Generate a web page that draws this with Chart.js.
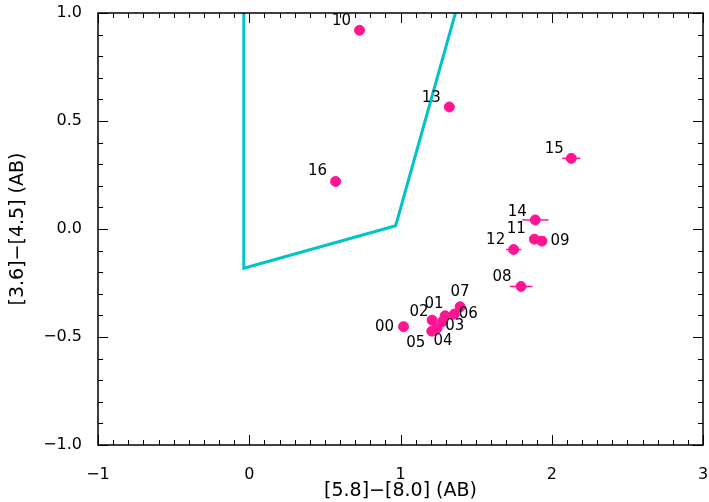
<!DOCTYPE html>
<html>
<head>
<meta charset="utf-8">
<script src="https://cdn.jsdelivr.net/npm/chart.js@4"></script>
<style>
  html, body { margin: 0; padding: 0; background: #fff; }
</style>
</head>
<body>
<canvas id="chart" width="709" height="502"></canvas>
<script>
// ---- Data ----
const srcIds  = ['00', '01', '02', '03', '04', '05', '06', '07', '08', '09', '10', '11', '12', '13', '14', '15', '16'];
const srcX    = [1.020, 1.295, 1.209, 1.279, 1.242, 1.207, 1.356, 1.394, 1.797, 1.935, 0.729, 1.885, 1.748, 1.323, 1.891, 2.129, 0.571];
const srcY    = [-0.452, -0.402, -0.422, -0.428, -0.459, -0.473, -0.394, -0.360, -0.266, -0.056, 0.920, -0.047, -0.095, 0.565, 0.042, 0.327, 0.220];
const srcXErr = [0, 0, 0, 0, 0, 0, 0, 0, 0.075, 0, 0, 0, 0.05, 0, 0.087, 0.06, 0];

// selection wedge
const wedgeX = [-0.036, -0.036, 0.968, 1.363];
const wedgeY = [1.0, -0.182, 0.015, 1.0];

const xTicks = [-1, 0, 1, 2, 3];
const yTicks = [-1.0, -0.5, 0.0, 0.5, 1.0];

// label placement (pixel offsets from each point)
const labelOffsets = {
  '00': [-19, 0], '01': [-11, -12], '02': [-13, -8], '03': [12, 5], '04': [6, 13],
  '05': [-16, 12], '06': [14, 0], '07': [0, -15], '08': [-19, -9], '09': [18, 0],
  '10': [-18, -9], '11': [-18, -10], '12': [-18, -9], '13': [-18, -9], '14': [-18, -8],
  '15': [-17, -9], '16': [-18, -10]
};

const PINK = '#ff1493';
const CYAN = '#00c4c8';
const FONT = '"DejaVu Sans", sans-serif';
const minus = (s) => String(s).replace('-', '\u2212');

const points = srcX.map((x, i) => ({ x, y: srcY[i] }));
const wedge = wedgeX.map((x, i) => ({ x, y: wedgeY[i] }));

// ---- Frame, inside ticks, error bars, labels ----
const framePlugin = {
  id: 'frame',
  beforeDatasetsDraw(chart) {
    const { ctx } = chart;
    const xs = chart.scales.x, ys = chart.scales.y;
    ctx.save();
    ctx.strokeStyle = PINK;
    ctx.lineWidth = 1.5;
    srcXErr.forEach((e, i) => {
      if (!e) return;
      const py = ys.getPixelForValue(srcY[i]);
      ctx.beginPath();
      ctx.moveTo(xs.getPixelForValue(srcX[i] - e), py);
      ctx.lineTo(xs.getPixelForValue(srcX[i] + e), py);
      ctx.stroke();
    });
    ctx.restore();
  },
  afterDatasetsDraw(chart) {
    const { ctx } = chart;
    const xs = chart.scales.x, ys = chart.scales.y;
    ctx.save();
    ctx.fillStyle = '#000';
    ctx.font = '15px ' + FONT;
    ctx.textAlign = 'center';
    ctx.textBaseline = 'middle';
    srcIds.forEach((id, i) => {
      const off = labelOffsets[id] || [0, 0];
      ctx.fillText(id, xs.getPixelForValue(srcX[i]) + off[0], ys.getPixelForValue(srcY[i]) + off[1]);
    });
    ctx.restore();
  },
  afterDraw(chart) {
    const { ctx, chartArea: a } = chart;
    const xs = chart.scales.x, ys = chart.scales.y;
    ctx.save();
    ctx.strokeStyle = '#000';
    ctx.lineWidth = 1.5;
    ctx.strokeRect(a.left, a.top, a.right - a.left, a.bottom - a.top);
    ctx.lineWidth = 1;
    ctx.beginPath();
    for (let k = -10; k <= 30; k++) {
      const v = k / 10;
      const len = k % 10 === 0 ? 10 : 5;
      const px = Math.round(xs.getPixelForValue(v)) + 0.5;
      ctx.moveTo(px, a.bottom); ctx.lineTo(px, a.bottom - len);
      ctx.moveTo(px, a.top); ctx.lineTo(px, a.top + len);
    }
    for (let k = -10; k <= 10; k++) {
      const v = k / 10;
      const len = k % 5 === 0 ? 10 : 5;
      const py = Math.round(ys.getPixelForValue(v)) + 0.5;
      ctx.moveTo(a.left, py); ctx.lineTo(a.left + len, py);
      ctx.moveTo(a.right, py); ctx.lineTo(a.right - len, py);
    }
    ctx.stroke();
    ctx.restore();
  }
};

new Chart(document.getElementById('chart'), {
  type: 'scatter',
  data: {
    datasets: [
      {
        label: 'wedge',
        type: 'line',
        data: wedge,
        showLine: true,
        borderColor: CYAN,
        borderWidth: 3,
        pointRadius: 0,
        fill: false,
        tension: 0
      },
      {
        label: 'sources',
        data: points,
        backgroundColor: PINK,
        borderColor: PINK,
        pointRadius: 5,
        pointHoverRadius: 5
      }
    ]
  },
  options: {
    responsive: false,
    animation: false,
    events: [],
    layout: { padding: { left: 0, right: 4, top: 13, bottom: 0 } },
    plugins: { legend: { display: false }, tooltip: { enabled: false } },
    scales: {
      x: {
        type: 'linear',
        min: -1, max: 3,
        afterFit: (s) => { s.height = 57; s.paddingLeft = 0; s.paddingRight = 0; },
        afterBuildTicks: (s) => { s.ticks = xTicks.map(v => ({ value: v })); },
        grid: { display: false },
        border: { display: false },
        ticks: {
          color: '#000',
          font: { family: FONT, size: 16 },
          padding: 12,
          maxRotation: 0,
          callback: (v) => minus(v)
        },
        title: {
          display: true,
          text: '[5.8]\u2212[8.0] (AB)',
          color: '#000',
          font: { family: FONT, size: 19 },
          padding: { top: 0, bottom: 0 }
        }
      },
      y: {
        type: 'linear',
        min: -1, max: 1,
        afterFit: (s) => { s.width = 98; s.paddingTop = 0; s.paddingBottom = 0; },
        afterBuildTicks: (s) => { s.ticks = yTicks.map(v => ({ value: v })); },
        grid: { display: false },
        border: { display: false },
        ticks: {
          color: '#000',
          font: { family: FONT, size: 16 },
          padding: 8,
          callback: (v) => minus(Number(v).toFixed(1))
        },
        title: {
          display: true,
          text: '[3.6]\u2212[4.5] (AB)',
          color: '#000',
          font: { family: FONT, size: 19 },
          padding: { top: 7, bottom: 0 }
        }
      }
    }
  },
  plugins: [framePlugin]
});
</script>
</body>
</html>
